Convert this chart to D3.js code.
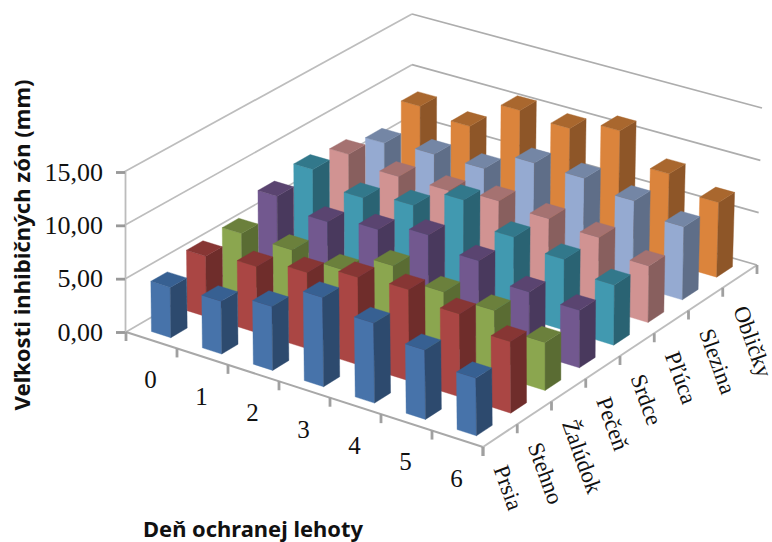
<!DOCTYPE html>
<html><head><meta charset="utf-8">
<script src="https://cdn.jsdelivr.net/npm/d3@7/dist/d3.min.js"></script>
<style>html,body{margin:0;padding:0;background:#fff}svg{display:block}</style>
</head><body><svg id="c" width="772" height="542"></svg>
<script>
const days = ["0","1","2","3","4","5","6"];
const organs = ["Prsia","Stehno","Žalúdok","Pečeň","Srdce","Pľúca","Slezina","Obličky"];
const valueTicks = [0,5,10,15];
const tickText = ["0,00","5,00","10,00","15,00"];
const prsia   = [4.7,4.9,5.9,8.2,7.3,6.3,5.2];
const stehno  = [5.7,6.2,7.1,8.1,8.4,7.6,6.5];
const zaludok = [5.9,5.8,5.4,7.2,6.2,5.9,4.4];
const pecen   = [7.5,6.5,7.2,8.1,7.1,5.6,5.3];
const srdce   = [8.1,6.8,7.5,9.4,7.3,6.6,5.6];
const pluca   = [7.6,6.85,6.9,7.3,7.0,6.6,5.3];
const slezina = [6.7,7.0,7.0,8.9,8.8,8.0,6.9];
const oblicky = [8.3,7.7,10.6,10.2,11.3,8.5,7.1];
const series = [prsia,stehno,zaludok,pecen,srdce,pluca,slezina,oblicky];
const faceColors = ["#4773aa","#aa4644","#8ba64f","#72588f","#4199b0","#d19392","#95aad1","#db843c"];
const sideColors = ["#2d4a6e","#6f2d2b","#5a6c33","#49395d","#2a6373","#885f5e","#5f6e88","#8e5628"];
const topColors  = ["#376092","#873634","#6b803c","#5a4470","#32788b","#a57271","#7486a5","#a9672e"];
const dayTitle = "Deň ochranej lehoty";
const valueTitle = "Veľkosti inhibičných zón (mm)";

const svg = d3.select("#c");
// plot box corners on screen: [front-left, front-right, back-right, back-left]
const floorC = [[126,332],[483,447],[757,265],[412,166]];
const roofC  = [[124,172],[481,280],[762,108],[412,14]];
const uScale = d3.scaleBand().domain(days).range([0,1]).paddingInner(0.62).paddingOuter(0.31);
const vScale = d3.scaleBand().domain(organs).range([0,1]).paddingInner(0.54).paddingOuter(0.27);
const hScale = d3.scaleLinear().domain([0,15]).range([0,1]);
const bil=(c,u,v)=>[0,1].map(k=>(1-u)*(1-v)*c[0][k]+u*(1-v)*c[1][k]+u*v*c[2][k]+(1-u)*v*c[3][k]);
function P(u,v,val){const a=bil(floorC,u,v),b=bil(roofC,u,v),t=hScale(val);return [a[0]+(b[0]-a[0])*t,a[1]+(b[1]-a[1])*t];}
const line=d3.line();
const poly=pts=>line(pts)+"Z";

// gridlines
const gridG=svg.append("g").attr("fill","none").attr("stroke-width",1.7);
valueTicks.forEach(v=>{
  gridG.append("path").attr("d",line([P(0,0,v),P(0,1,v)])).attr("stroke","#bdbdbd");
  gridG.append("path").attr("d",line([P(0,1,v),P(1,1,v)])).attr("stroke","#adadad");
});

// axes
const yScale=d3.scaleLinear().domain([0,15]).range([P(0,0,0)[1],P(0,0,15)[1]]);
const yAxis=d3.axisLeft(yScale).tickValues(valueTicks).tickFormat((d,i)=>tickText[i]).tickSize(9).tickPadding(13);
const yG=svg.append("g").attr("transform","translate(125,0)").call(yAxis);
yG.select(".domain").attr("stroke","#bcbcbc").attr("stroke-width",1.8);
yG.selectAll(".tick line").attr("stroke","#999").attr("stroke-width",2.8);
yG.selectAll("text").attr("font-family","'Liberation Serif'").attr("font-size",26).attr("fill","#111");

const edges=svg.append("g").attr("fill","none");
edges.append("path").attr("d",line([P(0,0,0),P(1,0,0)])).attr("stroke","#a8a8a8").attr("stroke-width",2);
edges.append("path").attr("d",line([P(1,0,0),P(1,1,0)])).attr("stroke","#bdbdbd").attr("stroke-width",2);
d3.range(0,8).forEach(i=>{const p=P(i/7,0,0);
  edges.append("line").attr("x1",p[0]).attr("y1",p[1]).attr("x2",p[0]).attr("y2",p[1]+9).attr("stroke","#a0a0a0").attr("stroke-width",2.8);});
d3.range(0,9).forEach(j=>{const p=P(1,j/8,0);
  edges.append("line").attr("x1",p[0]).attr("y1",p[1]).attr("x2",p[0]).attr("y2",p[1]+9).attr("stroke","#a0a0a0").attr("stroke-width",2.8);});

// bars, back to front
const barsG=svg.append("g");
d3.range(organs.length-1,-1,-1).forEach(j=>{
  days.forEach((d,i)=>{
    const val=series[j][i];
    const u0=uScale(d),u1=u0+uScale.bandwidth();
    const v0=vScale(organs[j]),v1=v0+vScale.bandwidth();
    const g=barsG.append("g").attr("stroke-width",0.4).attr("stroke-linejoin","round");
    g.append("path").attr("d",poly([P(u0,v0,0),P(u1,v0,0),P(u1,v0,val),P(u0,v0,val)])).attr("fill",faceColors[j]).attr("stroke",faceColors[j]);
    g.append("path").attr("d",poly([P(u1,v0,0),P(u1,v1,0),P(u1,v1,val),P(u1,v0,val)])).attr("fill",sideColors[j]).attr("stroke",sideColors[j]);
    g.append("path").attr("d",poly([P(u0,v0,val),P(u1,v0,val),P(u1,v1,val),P(u0,v1,val)])).attr("fill",topColors[j]).attr("stroke",topColors[j]);
  });
});

// day labels
svg.append("g").selectAll("text").data(days).join("text")
  .attr("x",d=>{const u=(uScale(d)+uScale.bandwidth()/2);return P(u,0,0)[0]-1;})
  .attr("y",d=>{const u=(uScale(d)+uScale.bandwidth()/2);return P(u,0,0)[1]+48;})
  .attr("text-anchor","middle")
  .attr("font-family","'Liberation Serif'").attr("font-size",25).attr("fill","#111").text(d=>d);

// organ labels
svg.append("g").selectAll("text").data(organs).join("text")
  .attr("transform",d=>{const v=vScale(d)+vScale.bandwidth()/2,p=P(1,v,0);return `translate(${p[0]-7},${p[1]+33}) rotate(70)`;})
  .attr("font-family","'Liberation Serif'").attr("font-size",23).attr("fill","#111").text(d=>d);

// titles
svg.append("text").attr("x",253).attr("y",537).attr("text-anchor","middle")
  .attr("textLength",220).attr("lengthAdjust","spacingAndGlyphs")
  .attr("font-family","'Noto Sans'").attr("font-weight","bold").attr("font-size",21).attr("fill","#111").text(dayTitle);
svg.append("text").attr("transform","translate(30,245) rotate(-90)").attr("text-anchor","middle")
  .attr("textLength",331).attr("lengthAdjust","spacingAndGlyphs")
  .attr("font-family","'Noto Sans'").attr("font-weight","bold").attr("font-size",22).attr("fill","#111").text(valueTitle);
</script></body></html>
